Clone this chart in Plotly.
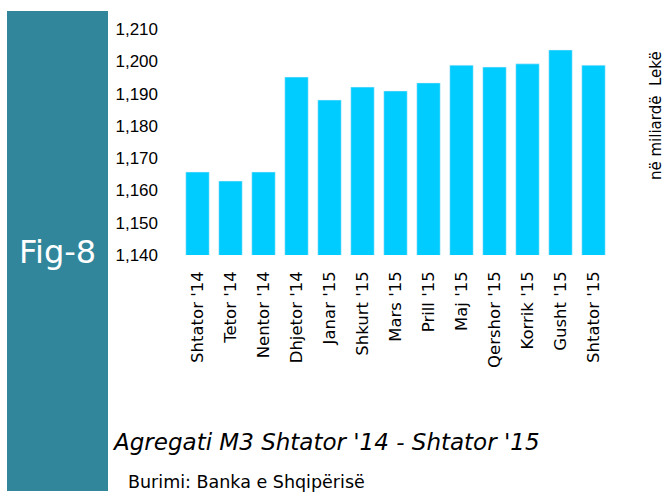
import plotly.graph_objects as go

categories = ["Shtator '14", "Tetor '14", "Nentor '14", "Dhjetor '14", "Janar '15",
              "Shkurt '15", "Mars '15", "Prill '15", "Maj '15", "Qershor '15",
              "Korrik '15", "Gusht '15", "Shtator '15"]
values = [1165.7, 1162.9, 1165.7, 1195.1, 1188.0, 1192.0, 1190.8, 1193.3,
          1198.8, 1198.2, 1199.2, 1203.5, 1198.8]
y_ticks = [1140, 1150, 1160, 1170, 1180, 1190, 1200, 1210]
y_tick_labels = ["1,140", "1,150", "1,160", "1,170", "1,180", "1,190", "1,200", "1,210"]

W, H = 667, 492
L, R, T, B = 181, 610, 29, 255

def px(x):
    return (x - L) / (R - L)

def py(y):
    return (B - y) / (B - T)

fig = go.Figure(go.Bar(
    x=categories, y=values, marker_color="#00CCFF", width=0.71,
))

fig.update_layout(
    width=W, height=H,
    margin=dict(l=L, r=W - R, t=T, b=H - B, pad=0),
    plot_bgcolor="white", paper_bgcolor="white",
    showlegend=False,
    font=dict(family="Liberation Sans, Arial, sans-serif", color="black"),
    xaxis=dict(
        tickangle=-90, tickfont=dict(family="DejaVu Sans", size=16.5),
        showline=False, showgrid=False, ticks="", ticklabelstandoff=12,
    ),
    yaxis=dict(
        range=[1140, 1210], tickvals=y_ticks, ticktext=y_tick_labels,
        tickfont=dict(family="Liberation Sans", size=17), showline=False,
        showgrid=False, zeroline=False, ticks="", ticklabelstandoff=22,
    ),
    shapes=[dict(
        type="rect", xref="paper", yref="paper",
        x0=px(7), x1=px(108), y0=py(491), y1=py(11),
        fillcolor="#31869B", line=dict(width=0), layer="below",
    )],
    annotations=[
        dict(text="Fig-8", xref="paper", yref="paper", x=px(57), y=py(252),
             showarrow=False, xanchor="center", yanchor="middle",
             font=dict(family="DejaVu Sans", size=32, color="white")),
        dict(text="<i>Agregati M3 Shtator '14 - Shtator '15</i>", xref="paper", yref="paper",
             x=px(110), y=py(442), showarrow=False, xanchor="left", yanchor="middle",
             font=dict(family="DejaVu Sans", size=23, color="black")),
        dict(text="Burimi: Banka e Shqipërisë", xref="paper", yref="paper",
             x=px(126), y=py(482), showarrow=False, xanchor="left", yanchor="middle",
             font=dict(family="DejaVu Sans", size=17.5, color="black")),
        dict(text="në miliardë  Lekë", xref="paper", yref="paper",
             x=px(656), y=py(116), showarrow=False, textangle=-90,
             xanchor="center", yanchor="middle",
             font=dict(family="DejaVu Sans", size=15, color="black")),
    ],
)

fig.write_html("out.html", config={"displayModeBar": False},
               post_script="document.body.style.margin='0';")
